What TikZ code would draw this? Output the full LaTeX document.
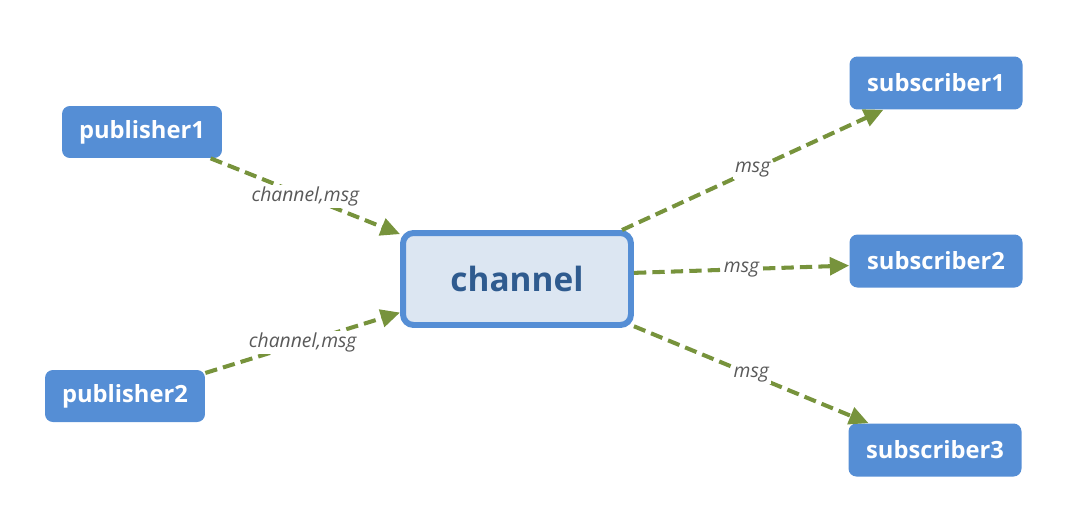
\documentclass[tikz,border=0pt]{standalone}
\usepackage{fontspec}
\setmainfont{Open Sans}
\usetikzlibrary{arrows.meta}
\definecolor{boxblue}{HTML}{558ED5}
\definecolor{chanfill}{HTML}{DCE6F2}
\definecolor{chantext}{HTML}{2F5B8F}
\definecolor{msggreen}{HTML}{77933C}
\definecolor{lblgray}{HTML}{595959}

\begin{document}
\begin{tikzpicture}[x=0.02cm, y=-0.02cm,
    client/.style={fill=boxblue, rounded corners=4.5pt, text=white, font=\bfseries\fontsize{13.5}{15}\selectfont,
        minimum width=3.2cm, minimum height=1.04cm, inner sep=0pt},
    reader/.style={client, minimum width=3.46cm, minimum height=1.06cm},
    hub/.style={draw=boxblue, line width=3.4pt, fill=chanfill, rounded corners=6pt, text=chantext,
        font=\bfseries\fontsize{19}{21}\selectfont, minimum width=4.56cm, minimum height=1.84cm},
    flow/.style={draw=msggreen, line width=2.3pt, dash pattern=on 7pt off 3.5pt,
        -{Triangle[length=11pt, width=10pt]}},
    lbl/.style={fill=white, inner sep=1pt, text=lblgray, font=\itshape\fontsize{11}{13}\selectfont}]
    \useasboundingbox (0,0) rectangle (1077,524);
    \node[client] (pub1) at (142,132) {publisher1};
    \node[client] (pub2) at (125,396) {publisher2};
    \node[hub] (channel) at (517,279) {channel};
    \node[reader] (sub1) at (936,83) {subscriber1};
    \node[reader] (sub2) at (936,261) {subscriber2};
    \node[reader] (sub3) at (935,450) {subscriber3};
    \draw[flow] (pub1.-21) -- node[lbl] {channel,msg} (channel.159);
    \draw[flow] (pub2.16) -- node[lbl] {channel,msg} (channel.196);
    \draw[flow] (channel.25) -- node[lbl] {msg} (sub1.207);
    \draw[flow] (channel.3) -- node[lbl] {msg} (sub2.183);
    \draw[flow] (channel.-22) -- node[lbl] {msg} (sub3.158);
\end{tikzpicture}
\end{document}
